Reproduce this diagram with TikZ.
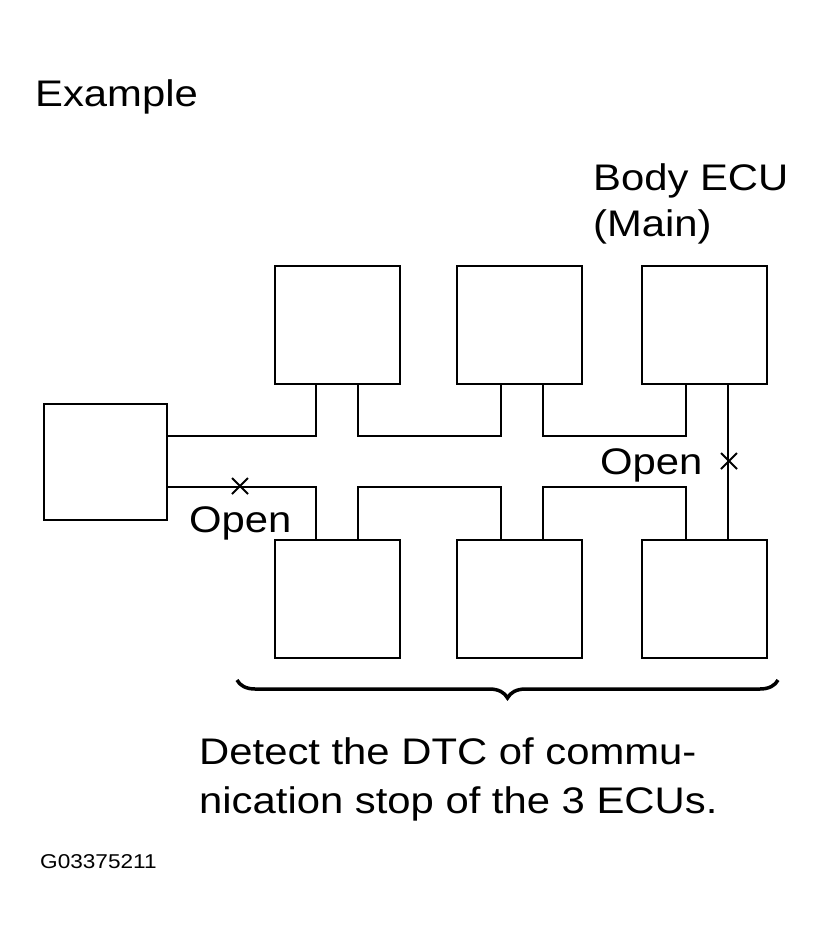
\documentclass[tikz,border=0pt]{standalone}
\usepackage{fontspec}
\setmainfont{Liberation Sans}[FakeStretch=1.13]
\usetikzlibrary{decorations.pathreplacing}
\tikzset{
  ecu/.style={draw,line width=2pt,minimum width=125pt,minimum height=118pt,inner sep=0pt},
  wire/.style={line width=1.4pt},
  lbl/.style={font=\fontsize{37}{46}\selectfont,inner sep=0pt,anchor=base west},
  cut/.style={line width=2pt}
}
\begin{document}
\begin{tikzpicture}[x=1pt,y=-1pt]
  \useasboundingbox (0,0) rectangle (830,943);
  % boxes
  \node[ecu,minimum width=123pt,minimum height=116pt] (left) at (105.5,462) {};
  \node[ecu] (t1) at (337.5,325) {};
  \node[ecu] (t2) at (519.5,325) {};
  \node[ecu] (t3) at (704.5,325) {};
  \node[ecu] (b1) at (337.5,598.5) {};
  \node[ecu] (b2) at (519.5,598.5) {};
  \node[ecu] (b3) at (704.5,598.5) {};
  % upper bus
  \draw[wire] (left.east |- 0,436) -| (316,0 |- t1.south);
  \draw[wire] (358,0 |- t1.south) |- (501,436) -- (501,0 |- t2.south);
  \draw[wire] (543,0 |- t2.south) |- (686,436) -- (686,0 |- t3.south);
  % lower bus
  \draw[wire] (left.east |- 0,487) -| (316,0 |- b1.north);
  \draw[wire] (358,0 |- b1.north) |- (501,487) -- (501,0 |- b2.north);
  \draw[wire] (543,0 |- b2.north) |- (686,487) -- (686,0 |- b3.north);
  % main link
  \draw[wire] (728,0 |- t3.south) -- (728,0 |- b3.north);
  % opens
  \coordinate (x1) at (240,486);
  \coordinate (x2) at (729,461);
  \foreach \c in {x1,x2}
    \draw[cut] ([shift={(-8,-8)}]\c) -- ([shift={(8,8)}]\c)
               ([shift={(-8,8)}]\c) -- ([shift={(8,-8)}]\c);
  \node[lbl] at (189,532) {Open};
  \node[lbl] at (600,474) {Open};
  % texts
  \node[lbl] at (35,106) {Example};
  \node[lbl] at (593,190) {Body ECU};
  \node[lbl] at (593,236) {(Main)};
  \draw[line width=3.5pt,decorate,decoration={brace,mirror,amplitude=18pt}]
    (237,680) -- (778,680);
  \node[lbl] at (199,764) {Detect the DTC of commu-};
  \node[lbl] at (199,813) {nication stop of the 3 ECUs.};
  \node[font=\fontsize{20}{20}\selectfont,inner sep=0pt,anchor=base west] at (40,868) {G03375211};
\end{tikzpicture}
\end{document}
